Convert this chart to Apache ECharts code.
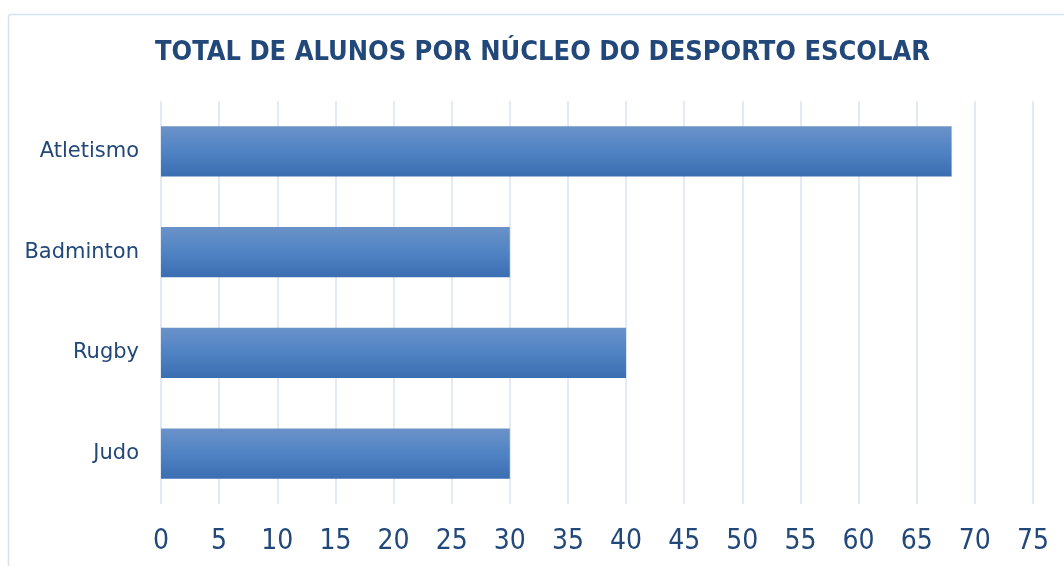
<!DOCTYPE html>
<html><head><meta charset="utf-8">
<script src="https://cdn.jsdelivr.net/npm/echarts@6/dist/echarts.min.js"></script>
<style>html,body{margin:0;padding:0;background:#fff}#c{width:1064px;height:566px}</style>
</head><body><div id="c"></div>
<script>
const categories = ['Atletismo', 'Badminton', 'Rugby', 'Judo'];
const values = [68, 30, 40, 30];
const title = 'TOTAL DE ALUNOS POR NÚCLEO DO DESPORTO ESCOLAR';

const chart = echarts.init(document.getElementById('c'));
chart.setOption({
  animation: false,
  backgroundColor: '#fff',
  graphic: [{
    type: 'rect', silent: true,
    shape: { x: 8.5, y: 14.5, width: 1080, height: 600, r: 3 },
    style: { fill: 'none', stroke: '#d6e2f0', lineWidth: 1.5 }
  }],
  title: {
    text: title, left: 150, top: 34,
    textStyle: { fontFamily: 'DejaVu Sans Condensed', fontWeight: 'bold', fontSize: 27, color: '#22487a' }
  },
  grid: { left: 161, right: 31, top: 101, bottom: 62, containLabel: false },
  xAxis: {
    type: 'value', min: 0, max: 75, interval: 5,
    axisLine: { show: false }, axisTick: { show: false },
    splitLine: { show: true, lineStyle: { color: '#d9e4f2', width: 1.5 } },
    axisLabel: { margin: 24, fontFamily: 'DejaVu Sans Condensed', fontSize: 28, color: '#22487a' }
  },
  yAxis: {
    type: 'category', data: categories, inverse: true,
    axisLine: { show: false }, axisTick: { show: false },
    axisLabel: { margin: 22, fontFamily: 'DejaVu Sans', fontSize: 21, color: '#22487a' }
  },
  series: [{
    type: 'bar', data: values, barWidth: '50%',
    itemStyle: {
      color: new echarts.graphic.LinearGradient(0, 0, 0, 1, [
        { offset: 0, color: '#6b92c9' },
        { offset: 0.5, color: '#4f83c3' },
        { offset: 1, color: '#3b6eb1' }
      ])
    }
  }]
});
</script></body></html>
